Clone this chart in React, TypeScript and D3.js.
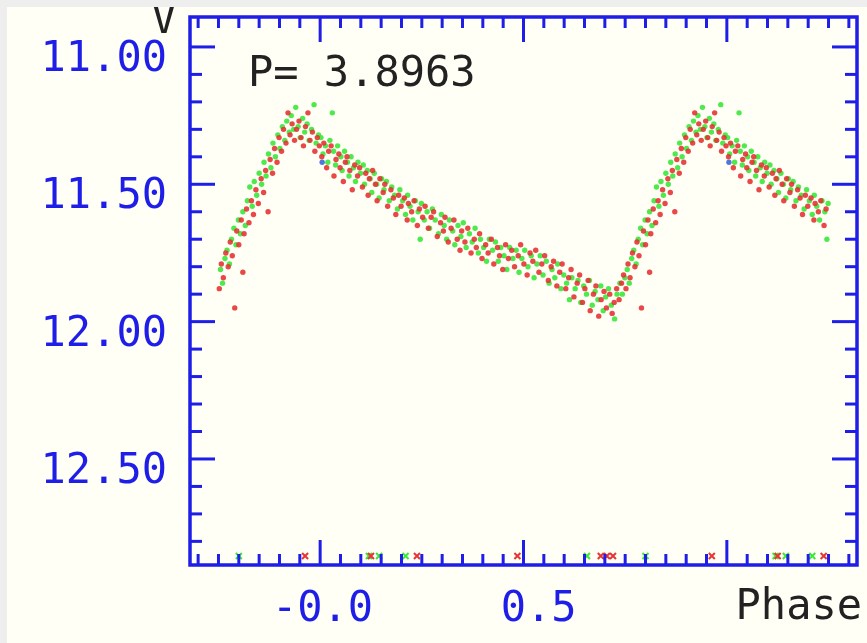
import React from "react";
import * as d3 from "d3";

// Light curve, phase-folded (base phase 0..1), V magnitude
const period = "3.8963";
const redPoints: [number, number][] = [
  [0.004,11.40],[0.009,11.35],[0.016,11.44],[0.021,11.38],[0.027,11.36],[0.034,11.47],[0.039,11.41],[0.046,11.39],[0.049,11.44],[0.057,11.49],
  [0.062,11.42],[0.066,11.40],[0.073,11.45],[0.079,11.52],[0.085,11.43],[0.092,11.47],[0.097,11.44],[0.104,11.51],[0.112,11.46],[0.118,11.54],
  [0.121,11.48],[0.129,11.45],[0.136,11.50],[0.14,11.56],[0.147,11.48],[0.155,11.53],[0.159,11.50],[0.166,11.58],[0.174,11.52],[0.18,11.55],
  [0.186,11.61],[0.193,11.54],[0.199,11.58],[0.207,11.55],[0.214,11.63],[0.217,11.57],[0.225,11.60],[0.231,11.56],[0.239,11.65],[0.244,11.59],
  [0.252,11.62],[0.258,11.58],[0.266,11.66],[0.273,11.62],[0.279,11.60],[0.288,11.69],[0.296,11.64],[0.303,11.67],[0.307,11.62],[0.315,11.71],
  [0.322,11.66],[0.329,11.63],[0.337,11.70],[0.344,11.74],[0.348,11.67],[0.356,11.71],[0.363,11.66],[0.371,11.75],[0.379,11.70],[0.384,11.73],
  [0.392,11.68],[0.398,11.77],[0.407,11.72],[0.413,11.75],[0.421,11.70],[0.427,11.79],[0.436,11.73],[0.441,11.76],[0.449,11.81],[0.456,11.72],
  [0.463,11.77],[0.471,11.74],[0.478,11.80],[0.487,11.76],[0.493,11.72],[0.501,11.79],[0.509,11.83],[0.516,11.75],[0.523,11.78],[0.53,11.74],
  [0.538,11.82],[0.545,11.79],[0.552,11.76],[0.561,11.85],[0.568,11.80],[0.574,11.78],[0.582,11.87],[0.589,11.82],[0.595,11.79],[0.604,11.88],
  [0.611,11.84],[0.617,11.81],[0.624,11.91],[0.632,11.86],[0.638,11.83],[0.645,11.93],[0.651,11.88],[0.659,11.85],[0.664,11.96],[0.672,11.90],
  [0.678,11.87],[0.685,11.98],[0.691,11.92],[0.698,11.89],[0.704,11.95],[0.712,11.90],[0.718,11.97],[0.723,11.93],[0.729,11.88],[0.735,11.92],
  [0.741,11.86],[0.746,11.83],[0.752,11.88],[0.757,11.79],[0.762,11.84],[0.768,11.75],[0.774,11.80],[0.779,11.71],[0.784,11.76],[0.79,11.95],
  [0.795,11.67],[0.8,11.72],[0.806,11.63],[0.81,11.82],[0.813,11.68],[0.819,11.59],[0.825,11.64],[0.831,11.56],[0.836,11.61],[0.842,11.52],
  [0.848,11.57],[0.855,11.48],[0.861,11.53],[0.866,11.45],[0.872,11.60],[0.877,11.41],[0.883,11.46],[0.888,11.37],[0.894,11.42],[0.899,11.33],
  [0.905,11.38],[0.91,11.30],[0.916,11.35],[0.921,11.24],[0.926,11.32],[0.931,11.28],[0.937,11.34],[0.942,11.30],[0.948,11.27],[0.953,11.33],
  [0.959,11.36],[0.964,11.29],[0.97,11.24],[0.975,11.34],[0.981,11.31],[0.987,11.38],[0.993,11.33],[0.998,11.36],
];
const greenPoints: [number, number][] = [
  [0.002,11.33],[0.007,11.39],[0.013,11.36],[0.019,11.42],[0.024,11.34],[0.03,11.24],[0.033,11.38],[0.038,11.43],[0.043,11.36],[0.051,11.40],
  [0.054,11.45],[0.06,11.38],[0.067,11.42],[0.071,11.47],[0.076,11.40],[0.082,11.44],[0.087,11.49],[0.093,11.42],[0.099,11.46],[0.106,11.43],
  [0.109,11.50],[0.116,11.45],[0.123,11.48],[0.127,11.53],[0.133,11.46],[0.139,11.50],[0.145,11.55],[0.151,11.48],[0.157,11.52],[0.163,11.49],
  [0.17,11.56],[0.176,11.51],[0.183,11.54],[0.19,11.59],[0.196,11.52],[0.203,11.56],[0.21,11.61],[0.215,11.54],[0.221,11.58],[0.228,11.63],
  [0.234,11.56],[0.241,11.60],[0.246,11.70],[0.249,11.57],[0.256,11.63],[0.263,11.60],[0.269,11.66],[0.276,11.59],[0.283,11.63],[0.291,11.68],
  [0.298,11.61],[0.305,11.65],[0.311,11.70],[0.318,11.63],[0.326,11.67],[0.331,11.72],[0.339,11.65],[0.346,11.69],[0.352,11.64],[0.359,11.73],
  [0.367,11.68],[0.374,11.71],[0.381,11.66],[0.389,11.75],[0.394,11.70],[0.402,11.73],[0.409,11.78],[0.416,11.70],[0.424,11.74],[0.431,11.71],
  [0.438,11.78],[0.444,11.73],[0.452,11.76],[0.459,11.81],[0.466,11.73],[0.474,11.77],[0.482,11.74],[0.489,11.82],[0.496,11.77],[0.503,11.74],
  [0.511,11.80],[0.519,11.76],[0.526,11.84],[0.533,11.79],[0.541,11.76],[0.548,11.83],[0.556,11.78],[0.563,11.86],[0.57,11.81],[0.577,11.84],
  [0.584,11.79],[0.592,11.88],[0.599,11.83],[0.606,11.86],[0.613,11.92],[0.619,11.84],[0.627,11.88],[0.634,11.85],[0.641,11.93],[0.648,11.87],
  [0.655,11.90],[0.662,11.85],[0.669,11.94],[0.676,11.89],[0.683,11.92],[0.69,11.87],[0.696,11.96],[0.702,11.91],[0.709,11.88],[0.716,11.94],
  [0.724,11.99],[0.73,11.90],[0.737,11.86],[0.743,11.90],[0.749,11.84],[0.755,11.81],[0.76,11.86],[0.766,11.77],[0.771,11.74],[0.777,11.79],
  [0.782,11.70],[0.788,11.66],[0.793,11.72],[0.799,11.63],[0.804,11.68],[0.81,11.60],[0.816,11.65],[0.821,11.56],[0.827,11.51],[0.833,11.58],
  [0.838,11.49],[0.844,11.54],[0.85,11.46],[0.856,11.50],[0.862,11.42],[0.867,11.47],[0.873,11.39],[0.879,11.44],[0.884,11.35],[0.89,11.40],
  [0.896,11.32],[0.901,11.37],[0.907,11.29],[0.913,11.34],[0.918,11.27],[0.924,11.31],[0.929,11.25],[0.935,11.30],[0.94,11.22],[0.946,11.29],
  [0.951,11.33],[0.957,11.26],[0.962,11.31],[0.968,11.28],[0.973,11.34],[0.979,11.30],[0.985,11.21],[0.99,11.35],[0.996,11.32],
];
const bluePoints: [number, number][] = [[0.005, 11.42]];
// measurements outside the plotted magnitude range (drawn at the bottom edge)
const redOffscale: number[] = [0.125, 0.238, 0.485, 0.69, 0.705, 0.72, 0.963];
const greenOffscale: number[] = [0.12, 0.145, 0.21, 0.656, 0.8];

const xTickLabels = [-0.0, 0.5];
const xTickLabelText = ["-0.0", "0.5"];
const yTickLabels = [11.0, 11.5, 12.0, 12.5];
const yTickLabelText = ["11.00", "11.50", "12.00", "12.50"];

const W = 867, H = 643;
const BLUE = "#1e1ee8";
const FONT = "'DejaVu Sans Mono', monospace";

function wrap(phase: number): number[] {
  const out = [phase];
  if (phase < 0.25) out.push(phase + 1);
  if (phase > 0.75) out.push(phase - 1);
  return out;
}

export default function App() {
  const left = 190, right = 857, top = 17, bottom = 565;
  const x = d3.scaleLinear().domain([-0.32, 1.32]).range([left, right]);
  const y = d3.scaleLinear().domain([10.891, 12.886]).range([top, bottom]);

  const xMinor = d3.range(-30, 131, 5).map((v) => v / 100);
  const yMinor = d3.range(109, 129, 1).map((v) => v / 10).filter((v) => y(v) > top + 3 && y(v) < bottom - 3);
  const isMajor = (v: number) => Math.abs(v * 2 - Math.round(v * 2)) < 1e-6;

  const expand = (pts: [number, number][]) =>
    pts.flatMap(([p, m]) => wrap(p).map((pp) => [pp, m] as [number, number]));

  const dots = (pts: [number, number][], color: string, key: string) =>
    expand(pts).map(([p, m], i) => (
      <circle key={key + i} cx={x(p)} cy={y(m)} r={2.7} fill={color} opacity={0.9} />
    ));

  const crosses = (phases: number[], color: string, key: string) =>
    phases.flatMap((p) => wrap(p)).map((p, i) => {
      const cx = x(p), cy = bottom - 9, s = 3;
      return (
        <path key={key + i} d={`M${cx - s},${cy - s}L${cx + s},${cy + s}M${cx - s},${cy + s}L${cx + s},${cy - s}`}
          stroke={color} strokeWidth={2} />
      );
    });

  return (
    <div style={{ position: "absolute", left: 0, top: 0 }}>
      <svg width={W} height={H} style={{ display: "block" }}>
        <defs>
          <clipPath id="panel">
            <rect x={7} y={7} width={W - 7} height={H - 7} />
          </clipPath>
          <filter id="soft" x="-10%" y="-10%" width="120%" height="120%">
            <feGaussianBlur stdDeviation={0.5} />
          </filter>
        </defs>
        <rect x={0} y={0} width={W} height={H} fill="#eeeeee" />
        <rect x={7} y={7} width={W - 7} height={H - 7} fill="#fffff6" />
        <g clipPath="url(#panel)">
          <g filter="url(#soft)">
            {dots(greenPoints, "#3be83b", "g")}
            {dots(redPoints, "#e63434", "r")}
            {dots(bluePoints, "#3a6ad8", "b")}
            {crosses(greenOffscale, "#3be83b", "gx")}
            {crosses(redOffscale, "#e63434", "rx")}
          </g>

          {xMinor.map((v, i) => {
            const len = isMajor(v) ? 25 : 11;
            return (
              <g key={"xt" + i}>
                <line x1={x(v)} x2={x(v)} y1={bottom} y2={bottom - len} stroke={BLUE} strokeWidth={3} />
                <line x1={x(v)} x2={x(v)} y1={top} y2={top + len} stroke={BLUE} strokeWidth={3} />
              </g>
            );
          })}
          {yMinor.map((v, i) => {
            const len = isMajor(v) ? 25 : 12;
            return (
              <g key={"yt" + i}>
                <line x1={left} x2={left + len} y1={y(v)} y2={y(v)} stroke={BLUE} strokeWidth={3} />
                <line x1={right} x2={right - len} y1={y(v)} y2={y(v)} stroke={BLUE} strokeWidth={3} />
              </g>
            );
          })}
          <rect x={left} y={top} width={right - left} height={bottom - top} fill="none" stroke={BLUE} strokeWidth={3.5} />

          {yTickLabels.map((v, i) => (
            <text key={"yl" + i} x={167} y={y(v) + 24} textAnchor="end" fontFamily={FONT} fontSize={42} fill={BLUE}>
              {yTickLabelText[i]}
            </text>
          ))}
          {xTickLabels.map((v, i) => (
            <text key={"xl" + i} x={x(v) + 53} y={621} textAnchor="end" fontFamily={FONT} fontSize={42} fill={BLUE}>
              {xTickLabelText[i]}
            </text>
          ))}
          <text x={862} y={619} textAnchor="end" fontFamily={FONT} fontSize={42} fill="#222">Phase</text>
          <text x={164} y={33} textAnchor="middle" fontFamily={FONT} fontSize={42} fill="#222">V</text>
          <text x={248} y={86} fontFamily={FONT} fontSize={42} fill="#222">{"P= " + period}</text>
        </g>
      </svg>
    </div>
  );
}
